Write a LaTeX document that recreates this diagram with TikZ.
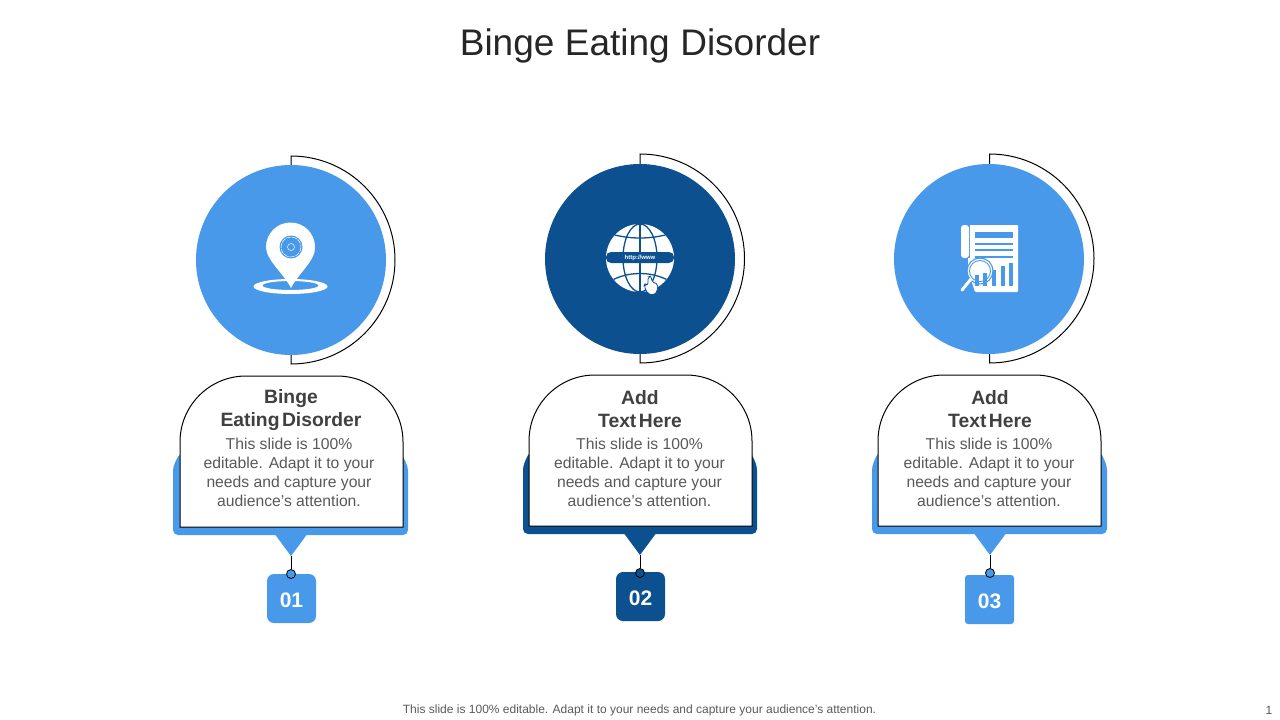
\documentclass[tikz,border=0pt]{standalone}
\usepackage{fontspec}
\setmainfont{Liberation Sans}
\definecolor{skyblue}{RGB}{72, 153, 233}
\definecolor{deepblue}{RGB}{13, 80, 144}
\definecolor{inkgray}{RGB}{64, 64, 64}
\definecolor{bodygray}{RGB}{89, 89, 89}
\tikzset{
    discnode/.style={circle, minimum size=190pt, inner sep=0pt},
    backpanel/.style={rounded corners=5pt},
    cardline/.style={draw=black, fill=white, line width=1pt},
    stemline/.style={draw=black, line width=1pt},
    dotnode/.style={circle, draw=black, line width=0.8pt, minimum size=9pt, inner sep=0pt},
    numnode/.style={minimum size=49pt, inner sep=0pt, text height=17pt, text depth=0pt, rounded corners=7pt, text=white, font=\bfseries\fontsize{21}{21}\selectfont},
    headnode/.style={align=center, text=inkgray, font={\bfseries\fontsize{19.3}{23}\selectfont\spaceskip=2.5pt\relax}},
    bodynode/.style={align=center, text=bodygray, font=\fontsize{15.7}{19}\selectfont}
}
\begin{document}
\begin{tikzpicture}[x=1pt, y=-1pt]
    \useasboundingbox (0,0) rectangle (1280,720);
    \node[font={\fontsize{37}{37}\selectfont\spaceskip=10.5pt\relax}, text=black!85] (title) at (640,46) {Binge Eating Disorder};

    % first column
    \draw[line width=1pt] (291,165) -- (291,156) arc[start angle=-90, end angle=90, radius=104] -- (291,355);
    \node[discnode, fill=skyblue] (disc1) at (291,260) {};
    \fill[skyblue, backpanel] (173,535) -- (173,476) .. controls (173,466) and (176,460) .. (181,452) -- (400,452) .. controls (405,460) and (408,466) .. (408,476) -- (408,535) -- cycle;
    \fill[skyblue] (274,533) -- (308,533) -- (291,556) -- cycle;
    \coordinate (tip1) at (291,556);
    \draw[cardline] (180,527) -- (180,442) arc[start angle=180, end angle=270, radius=66] -- (337,376) arc[start angle=270, end angle=360, radius=66] -- (403,527) -- cycle;
    \node[headnode] (head1) at (291,410) {Binge\\Eating Disorder};
    \node[bodynode] (body1) at (289,472) {This slide is 100\%\\editable. Adapt it to your\\needs and capture your\\audience's attention.};
    \node[numnode, fill=skyblue] (num1) at (291.5,598.5) {01};
    \node[dotnode, fill=skyblue] (dot1) at (291,574) {};
    \draw[stemline] (tip1) -- (dot1);
    % pin icon
    \fill[white, even odd rule] (290.5,286.5) ellipse (37 and 7.5) (290.5,285.5) ellipse (28 and 4.5);
    \fill[white] (291,288) .. controls (284,274) and (266,260) .. (266,247) arc[start angle=180, end angle=360, radius=24.5] .. controls (316,260) and (298,274) .. (291,288) -- cycle;
    \fill[skyblue] (291,247) circle (11.5);
    \draw[white, line width=0.5pt, dash pattern=on 5pt off 1pt] (291,247) circle (10);
    \draw[white, line width=0.5pt] (291,247) circle (3.5);

    % second column
    \draw[line width=1pt] (640,164) -- (640,154) arc[start angle=-90, end angle=90, radius=104.5] -- (640,354);
    \node[discnode, fill=deepblue] (disc2) at (640,259) {};
    \fill[deepblue, backpanel] (523,534) -- (523,475) .. controls (523,465) and (526,459) .. (530,451) -- (750,451) .. controls (754,459) and (757,465) .. (757,475) -- (757,534) -- cycle;
    \fill[deepblue] (623,532) -- (657,532) -- (640,555) -- cycle;
    \coordinate (tip2) at (640,555);
    \draw[cardline] (529,526) -- (529,441) arc[start angle=180, end angle=270, radius=66] -- (686,375) arc[start angle=270, end angle=360, radius=66] -- (752,526) -- cycle;
    \node[headnode] (head2) at (640,409.5) {Add\\Text Here};
    \node[bodynode] (body2) at (639.5,472) {This slide is 100\%\\editable. Adapt it to your\\needs and capture your\\audience's attention.};
    \node[numnode, fill=deepblue] (num2) at (640.5,596.5) {02};
    \node[dotnode, fill=deepblue] (dot2) at (640,573) {};
    \draw[stemline] (tip2) -- (dot2);
    % globe icon
    \fill[white] (640,258) circle (34);
    \begin{scope}
        \clip (640,258) circle (34);
        \draw[deepblue, line width=1.3pt] (640,224) -- (640,292);
        \draw[deepblue, line width=1.3pt] (640,258) ellipse (17 and 34);
        \draw[deepblue, line width=1.3pt] (606,232) .. controls (625,240) and (655,240) .. (674,232);
        \draw[deepblue, line width=1.3pt] (606,284) .. controls (625,270) and (655,270) .. (674,284);
    \end{scope}
    \fill[deepblue, rounded corners=5pt] (606,252) rectangle (674,263);
    \node[text=white, font=\bfseries\fontsize{6}{6}\selectfont, inner sep=0pt] (url) at (640,257.5) {http://www};
    \fill[white, draw=deepblue, line width=0.8pt, rounded corners=2pt] (648,294) -- (644,286) -- (645,284) -- (648,285) -- (648,277) -- (651,276) -- (652,282) -- (658,284) -- (657,292) -- (654,295) -- cycle;

    % third column
    \draw[line width=1pt] (989.5,164) -- (989.5,154) arc[start angle=-90, end angle=90, radius=104.5] -- (989.5,354);
    \node[discnode, fill=skyblue] (disc3) at (989,259) {};
    \fill[skyblue, backpanel] (872,534) -- (872,475) .. controls (872,465) and (875,459) .. (879,451) -- (1100,451) .. controls (1104,459) and (1107,465) .. (1107,475) -- (1107,534) -- cycle;
    \fill[skyblue] (973,532) -- (1007,532) -- (990,555) -- cycle;
    \coordinate (tip3) at (990,555);
    \draw[cardline] (878,526) -- (878,441) arc[start angle=180, end angle=270, radius=66] -- (1035,375) arc[start angle=270, end angle=360, radius=66] -- (1101,526) -- cycle;
    \node[headnode] (head3) at (990,409.5) {Add\\Text Here};
    \node[bodynode] (body3) at (989,472) {This slide is 100\%\\editable. Adapt it to your\\needs and capture your\\audience's attention.};
    \node[numnode, fill=skyblue, rounded corners=3pt] (num3) at (989.5,599.5) {03};
    \node[dotnode, fill=skyblue] (dot3) at (990,573) {};
    \draw[stemline] (tip3) -- (dot3);
    % report icon
    \fill[white, rounded corners=1pt] (968,225) -- (1018,225) -- (1018,292) -- (975,292) -- (968,270) -- cycle;
    \fill[skyblue] (968,225) rectangle (970,258);
    \fill[white, rounded corners=3pt] (961,225) rectangle (969,258);
    \fill[skyblue] (975,232) rectangle (1013,238);
    \fill[skyblue] (975,243) rectangle (1013,244.5);
    \fill[skyblue] (975,249) rectangle (1013,250.5);
    \fill[skyblue] (975,256) rectangle (1013,257.5);
    \fill[skyblue] (1009,263) rectangle (1013,286);
    \fill[skyblue] (1001,266) rectangle (1005,286);
    \fill[skyblue] (992,270) rectangle (996,286);
    \fill[skyblue] (980,271) circle (13.5);
    \draw[white, line width=3pt, line cap=round] (962,290) -- (971,279);
    \fill[white] (980,271) circle (12.3);
    \fill[skyblue] (980,271) circle (11);
    \fill[white] (980,271) circle (10);
    \fill[skyblue] (975,275) rectangle (979,279.5);
    \fill[skyblue] (983,273) rectangle (987,277.5);
    \fill[skyblue] (975,279.5) rectangle (979,286);
    \fill[skyblue] (983,277.5) rectangle (987,286);

    \node[text=bodygray, font=\fontsize{12}{12}\selectfont] (note) at (639.5,710) {This slide is 100\% editable. Adapt it to your needs and capture your audience's attention.};
    \node[text=bodygray, font=\fontsize{12}{12}\selectfont] (page) at (1269,710) {1};
\end{tikzpicture}
\end{document}
